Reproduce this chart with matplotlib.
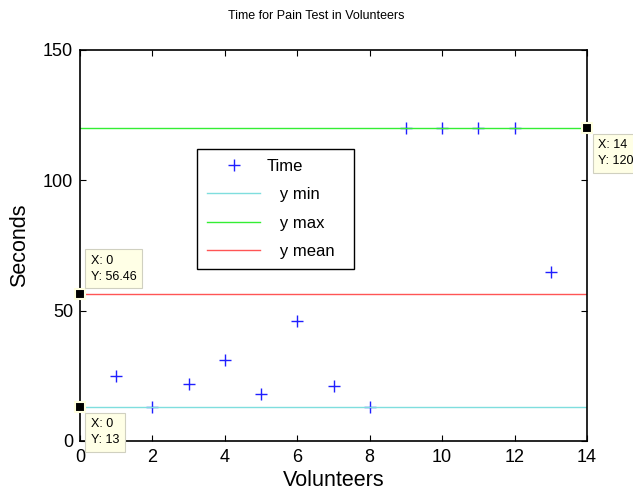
import numpy as np
import matplotlib
matplotlib.use('Agg')
import matplotlib.pyplot as plt

plt.rcParams['font.family'] = ['Liberation Sans', 'DejaVu Sans']

volunteers = [1, 2, 3, 4, 5, 6, 7, 8, 9, 10, 11, 12, 13]
times = [25, 13, 22, 31, 18, 46, 21, 13, 120, 120, 120, 120, 65]
x_range = [0, 14]

y_min = min(times)
y_max = max(times)
y_mean = np.mean(times)

fig = plt.figure(figsize=(6.33, 4.92), dpi=100)
ax = fig.add_axes([0.1264, 0.1037, 0.801, 0.7947])

ax.plot(volunteers, times, '+', color='#1f1fff', markersize=9, markeredgewidth=1.0, label='Time')
ax.plot(x_range, [y_min, y_min], color='#7fdede', lw=1, label='   y min')
ax.plot(x_range, [y_max, y_max], color='#33ee33', lw=1, label='   y max')
ax.plot(x_range, [y_mean, y_mean], color='#ff5555', lw=1, label='   y mean  ')

ax.set_xlim(0, 14)
ax.set_ylim(0, 150)
ax.set_xticks(range(0, 15, 2))
ax.set_yticks([0, 50, 100, 150])
ax.tick_params(direction='in', top=True, right=True, labelsize=13, length=4)
ax.tick_params(axis='x', pad=6)
ax.tick_params(axis='y', pad=5)
for s in ax.spines.values():
    s.set_linewidth(1.2)

ax.set_xlabel('Volunteers', fontsize=15.5, labelpad=3)
ax.set_ylabel('Seconds', fontsize=15.5, labelpad=9)
fig.text(0.5, 0.968, 'Time for Pain Test in Volunteers', fontsize=9, ha='center', va='center')

leg = ax.legend(loc='upper left', bbox_to_anchor=(0.231, 0.747), borderaxespad=0,
                fontsize=12, fancybox=False, edgecolor='black', framealpha=1,
                handlelength=3.2, handletextpad=0.35, borderpad=0.6, labelspacing=0.8)
leg.get_frame().set_linewidth(1.0)

# data tips
tips = [(0, y_mean, 'X: 0\nY: 56.46', (8, 8), 'bottom'),
        (0, y_min, 'X: 0\nY: 13', (8, -8), 'top'),
        (14, y_max, 'X: 14\nY: 120', (8, -8), 'top')]
for tx, ty, txt, off, va in tips:
    ax.plot(tx, ty, 's', color='black', markersize=7, markeredgecolor='#ffffe0',
            markeredgewidth=1.5, clip_on=False, zorder=5)
    ax.annotate(txt, (tx, ty), xytext=off, textcoords='offset points',
                fontsize=9, ha='left', va=va, linespacing=1.45, annotation_clip=False,
                bbox=dict(boxstyle='square,pad=0.45', fc='#ffffe6', ec='#d0d0c0', lw=0.8),
                zorder=6)

fig.savefig('out.png', dpi=100)
